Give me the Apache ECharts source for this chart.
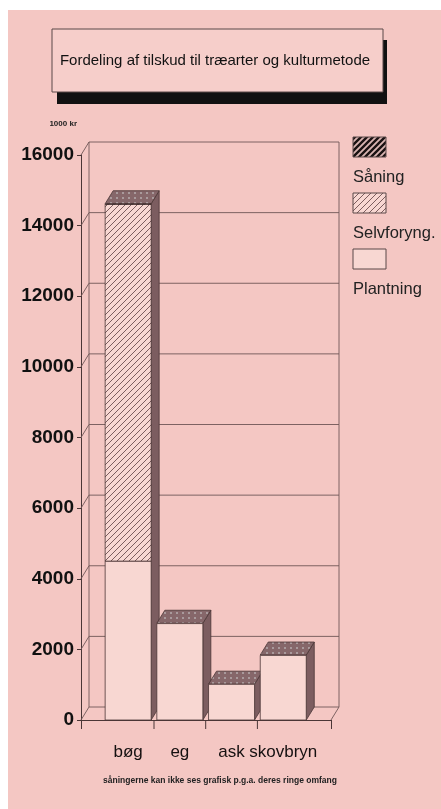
<!DOCTYPE html>
<html lang="da">
<head>
    <meta charset="UTF-8">
    <title>Fordeling af tilskud</title>
    <script src="https://cdn.jsdelivr.net/npm/echarts@6/dist/echarts.min.js"></script>
    <style>
        * { margin: 0; padding: 0 }
        html, body { width: 100%; height: 100%; background: #fff; }
        #main { width: 441px; height: 809px; }
    </style>
</head>
<body>
<div id="main"></div>
<script type="text/javascript">
    // data (1000 kr)
    var categories = ['bøg', 'eg', 'ask', 'skovbryn'];
    var plantning  = [4500, 2730, 1010, 1830];
    var selvforyng = [10100, 0, 0, 0];
    var saaning    = [20, 10, 5, 10];   // too small to see, says the footnote
    var yMax = 16000, yStep = 2000;
    var legendNames = ['Såning', 'Selvforyng.', 'Plantning'];
    var titleText = 'Fordeling af tilskud til træarter og kulturmetode';
    var footText = 'såningerne kan ikke ses grafisk p.g.a. deres ringe omfang';

    var yTicks = [];
    for (var v = 0; v <= yMax; v += yStep) yTicks.push(v);

    var DX = 8, DY = -13;          // depth of the pseudo 3d box
    var BG = '#f4c7c3', FACE = '#f8d7d2', LINE = '#4a3636', WALL = '#6f5757';

    function makePattern(size, bg, color, width) {
        var c = document.createElement('canvas');
        c.width = size; c.height = size;
        var g = c.getContext('2d');
        g.fillStyle = bg; g.fillRect(0, 0, size, size);
        g.strokeStyle = color; g.lineWidth = width;
        g.beginPath();
        g.moveTo(-1, size + 1); g.lineTo(size + 1, -1);
        g.moveTo(-1, 1); g.lineTo(1, -1);
        g.moveTo(size - 1, size + 1); g.lineTo(size + 1, size - 1);
        g.stroke();
        return {image: c, repeat: 'repeat'};
    }
    function makeDots() {
        var c = document.createElement('canvas');
        c.width = 6; c.height = 5;
        var g = c.getContext('2d');
        g.fillStyle = '#86676a'; g.fillRect(0, 0, 6, 5);
        g.fillStyle = '#a99a9c'; g.fillRect(2, 2, 2, 2);
        return {image: c, repeat: 'repeat'};
    }
    var hatchLight = makePattern(6, FACE, '#6d4f50', 0.9);
    var hatchDark = makePattern(6, '#d9b5b2', '#1a1212', 2.4);
    var dots = makeDots();

    var chart = echarts.init(document.getElementById('main'));

    function frameItem(params, api) {
        var v = api.value(0);
        var p = api.coord([0, v]), q = api.coord([1, v]);
        var ls = {stroke: WALL, lineWidth: 0.9};
        var kids = [
            {type: 'line', shape: {x1: p[0], y1: p[1], x2: p[0] + DX, y2: p[1] + DY}, style: ls},
            {type: 'line', shape: {x1: p[0] + DX, y1: p[1] + DY, x2: q[0] + DX, y2: q[1] + DY}, style: ls}
        ];
        if (v === 0) {
            var pt = api.coord([0, yMax]), qt = api.coord([1, yMax]);
            kids.push({type: 'line', shape: {x1: q[0], y1: q[1], x2: q[0] + DX, y2: q[1] + DY}, style: ls});
            kids.push({type: 'line', shape: {x1: p[0] + DX, y1: p[1] + DY, x2: pt[0] + DX, y2: pt[1] + DY}, style: ls});
            kids.push({type: 'line', shape: {x1: q[0] + DX, y1: q[1] + DY, x2: qt[0] + DX, y2: qt[1] + DY}, style: ls});
        }
        return {type: 'group', children: kids};
    }

    function barItem(params, api) {
        var i = api.value(0);
        var a = api.value(1), b = api.value(2), c = api.value(3);
        var band = api.size([1, 0])[0];
        var w = band * 0.89;
        var base = api.coord([i, 0]);
        var x0 = base[0] - w / 2, y0 = base[1];
        var y1 = api.coord([i, a])[1];
        var y2 = api.coord([i, a + b])[1];
        var y3 = api.coord([i, a + b + c])[1];
        var kids = [];
        // side face
        kids.push({type: 'polygon', shape: {points: [[x0 + w, y3], [x0 + w + DX, y3 + DY], [x0 + w + DX, y0 + DY], [x0 + w, y0]]},
            style: {fill: '#7c5d60', stroke: LINE, lineWidth: 0.8}});
        // top face
        kids.push({type: 'polygon', shape: {points: [[x0, y3], [x0 + DX, y3 + DY], [x0 + w + DX, y3 + DY], [x0 + w, y3]]},
            style: {fill: dots, stroke: LINE, lineWidth: 0.8}});
        // front faces, one per layer
        kids.push({type: 'rect', shape: {x: x0, y: y1, width: w, height: y0 - y1}, style: {fill: FACE, stroke: LINE, lineWidth: 0.8}});
        if (y1 - y2 > 0.5) kids.push({type: 'rect', shape: {x: x0, y: y2, width: w, height: y1 - y2}, style: {fill: hatchLight, stroke: LINE, lineWidth: 0.8}});
        if (y2 - y3 > 0.5) kids.push({type: 'rect', shape: {x: x0, y: y3, width: w, height: y2 - y3}, style: {fill: hatchDark, stroke: LINE, lineWidth: 0.8}});
        // divider tick below the floor
        if (i > 0) {
            var xb = base[0] - band / 2;
            kids.push({type: 'line', shape: {x1: xb, y1: y0, x2: xb, y2: y0 + 9}, style: {stroke: LINE, lineWidth: 1}});
        }
        return {type: 'group', children: kids};
    }

    var legendFills = [hatchDark, hatchLight, FACE];
    var graphics = [
        {type: 'rect', z: -100, shape: {x: 8, y: 10, width: 441, height: 809}, style: {fill: BG}},
        {type: 'rect', shape: {x: 57, y: 40, width: 330, height: 64}, style: {fill: '#111'}},
        {type: 'rect', shape: {x: 52, y: 29, width: 331, height: 63}, style: {fill: '#f6ceca', stroke: '#5a4848', lineWidth: 1}},
        {type: 'text', x: 215, y: 61, style: {text: titleText, font: '15px "Liberation Sans", Arial, sans-serif', fill: '#111', align: 'center', verticalAlign: 'middle'}},
        {type: 'text', x: 220, y: 781, style: {text: footText, font: 'bold 8.5px "Liberation Sans", Arial, sans-serif', fill: '#222', align: 'center', verticalAlign: 'middle'}}
    ];
    legendNames.forEach(function (name, k) {
        var top = 137 + k * 56;
        graphics.push({type: 'rect', shape: {x: 353, y: top, width: 33, height: 20}, style: {fill: legendFills[k], stroke: '#5a4848', lineWidth: 1}});
        graphics.push({type: 'text', x: 353, y: top + 40, style: {text: name, font: '16.5px "Liberation Sans", Arial, sans-serif', fill: '#222', verticalAlign: 'middle'}});
    });

    chart.setOption({
        animation: false,
        backgroundColor: '#fff',
        grid: [
            {left: 81, top: 155, width: 250, height: 565},
            {left: 102.3, top: 155, width: 206.8, height: 565}
        ],
        xAxis: [
            {
                gridIndex: 0, type: 'value', min: 0, max: 1, interval: 1,
                axisLine: {show: true, lineStyle: {color: LINE, width: 1}},
                axisTick: {show: true, length: 9, lineStyle: {color: LINE}},
                axisLabel: {show: false}, splitLine: {show: false}
            },
            {
                gridIndex: 1, type: 'category', data: categories,
                axisLine: {show: false}, axisTick: {show: false},
                axisLabel: {interval: 0, hideOverlap: false, margin: 24, fontSize: 17, color: '#151010',
                    fontFamily: '"Liberation Sans", Arial, sans-serif'}
            }
        ],
        yAxis: [
            {
                gridIndex: 0, type: 'value', min: 0, max: yMax, interval: yStep,
                name: '1000 kr', nameLocation: 'end', nameGap: 27,
                nameTextStyle: {fontSize: 8, fontWeight: 'bold', color: '#222', align: 'right', padding: [0, 4, 0, 0]},
                axisLine: {show: true, lineStyle: {color: LINE, width: 1}},
                axisTick: {show: true, length: 4, lineStyle: {color: LINE}},
                axisLabel: {margin: 7, fontSize: 19, fontWeight: 'bold', color: '#111',
                    fontFamily: '"Liberation Sans", Arial, sans-serif',
                    formatter: function (v) { return String(v); }},
                splitLine: {show: false}
            },
            {gridIndex: 1, type: 'value', min: 0, max: yMax, show: false}
        ],
        graphic: graphics,
        series: [
            {
                type: 'custom', name: 'frame', xAxisIndex: 0, yAxisIndex: 0, z: 1, clip: false, silent: true,
                renderItem: frameItem,
                data: yTicks.map(function (t) { return [t]; })
            },
            {
                type: 'custom', name: 'bars', xAxisIndex: 1, yAxisIndex: 1, z: 3, clip: false,
                renderItem: barItem,
                encode: {x: 0, y: [1]},
                data: categories.map(function (c, i) {
                    return [i, plantning[i], selvforyng[i], saaning[i]];
                })
            }
        ]
    });
</script>
</body>
</html>
